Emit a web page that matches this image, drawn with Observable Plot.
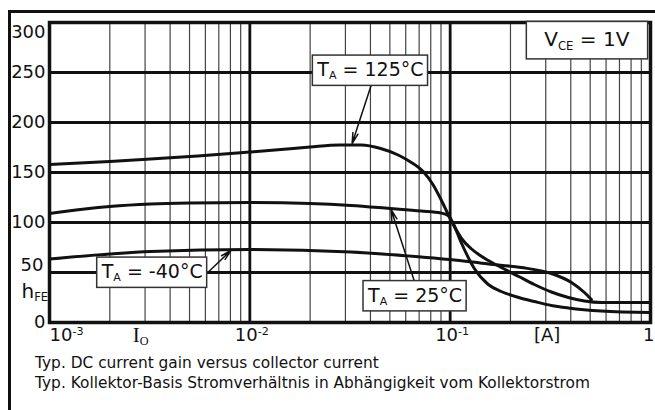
<!DOCTYPE html>
<html><head><meta charset="utf-8">
<script src="https://cdn.jsdelivr.net/npm/d3@7"></script>
<script src="https://cdn.jsdelivr.net/npm/@observablehq/plot@0.6"></script>
<style>
html,body{margin:0;padding:0;background:#fff}
body{width:655px;height:410px;overflow:hidden;position:relative;font-family:"DejaVu Sans",sans-serif}
#chart{position:absolute;left:0;top:0}
.frameL{position:absolute;left:8px;top:10px;width:3px;height:400px;background:#111}
.frameT{position:absolute;left:8px;top:10px;width:647px;height:3px;background:#111}
.cap{position:absolute;left:35px;font-size:15.4px;line-height:20px;color:#111;white-space:nowrap}
</style></head><body>
<div id="chart"></div>
<div class="frameL"></div><div class="frameT"></div>
<div class="cap" style="top:352.5px">Typ. DC current gain versus collector current</div>
<div class="cap" style="top:372.5px">Typ. Kollektor-Basis Stromverhältnis in Abhängigkeit vom Kollektorstrom</div>
<script>
// Collector current [A] and DC current gain hFE
const current_125 = [0.001, 0.002, 0.0032, 0.0055, 0.01, 0.0143, 0.02, 0.028, 0.036, 0.045, 0.055, 0.0617, 0.0733, 0.082, 0.090, 0.100, 0.107, 0.115, 0.127, 0.140, 0.155, 0.180, 0.220, 0.263, 0.320, 0.389, 0.468, 0.569, 1.0];
const hfe_125     = [158,   161,   163.5,  166.5,  170.5, 173,   175.5, 177.5, 177.5, 174,   167.5, 162,    151,    138,   123,   104,   93,    83,    74,    67.5,  62,    55,    46,    38,    30.5,  25,    21.5,  20,    20];

const current_25 = [0.001, 0.0015, 0.002, 0.0032, 0.005, 0.01, 0.02, 0.032, 0.05, 0.0716, 0.090, 0.0977, 0.1035, 0.1135, 0.132, 0.155, 0.180, 0.220, 0.263, 0.320, 0.389, 0.569, 1.0];
const hfe_25     = [109,   113.5,  116,   118.5,  119.5, 120,  119,  117,   114,  111.5,  109.5, 107,    99,     80,     54,    38,    31,    25,    21,    17,    14.5,  11.5,  10];

const current_m40 = [0.001, 0.002, 0.0032, 0.01, 0.032, 0.0716, 0.100, 0.155, 0.226, 0.320, 0.403, 0.468, 0.507];
const hfe_m40     = [63.5,  68.5,  71,     73,   70.5,  65.5,   63,    58.5,  55,    49,    40,    30,    23];

const seriesNames = ["125", "25", "-40"];
const yTicks = [0, 50, 100, 150, 200, 250, 300];
const xTicks = [0.001, 0.01, 0.1, 1];
const xTickLabels = ["10^-3", "10^-2", "10^-1", "1"];
const xMinor = d3.range(-3, 0).flatMap(e => d3.range(2, 10).map(m => m * Math.pow(10, e)));

const rows = [
  ...current_125.map((I, i) => ({T: seriesNames[0], I, h: hfe_125[i]})),
  ...current_25.map((I, i) => ({T: seriesNames[1], I, h: hfe_25[i]})),
  ...current_m40.map((I, i) => ({T: seriesNames[2], I, h: hfe_m40[i]}))
];

const labels = [
  {text: "T_A = 125°C", x: 0.0400, y: 252.5, px: 4, py: 3, size: 19},
  {text: "T_A = -40°C", x: 0.003255, y: 50.5, px: 4, py: 3, size: 19},
  {text: "T_A = 25°C", x: 0.0668, y: 27, px: 4, py: 3, size: 19},
  {text: "V_CE = 1V", x: 0.481, y: 282.5, px: 18, py: 6, size: 20}
];
const arrows = [
  {x1: 0.0403, y1: 237, x2: 0.0324, y2: 179},
  {x1: 0.00617, y1: 50, x2: 0.00804, y2: 72},
  {x1: 0.0661, y1: 42, x2: 0.0507, y2: 113}
];

const ink = "#111";
const chart = Plot.plot({
  width: 655, height: 352,
  marginLeft: 49, marginRight: 5, marginTop: 22, marginBottom: 30,
  x: {type: "log", domain: [0.001, 1], axis: null},
  y: {domain: [0, 300], axis: null},
  style: {background: "transparent", fontFamily: "DejaVu Sans", color: ink, overflow: "visible"},
  marks: [
    Plot.ruleX(xMinor, {stroke: "#444", strokeWidth: 1.2}),
    Plot.ruleX([0.01, 0.1], {stroke: ink, strokeWidth: 2.8}),
    Plot.ruleY(yTicks.filter(d => d > 0 && d < 300), {stroke: ink, strokeWidth: 2.8}),
    Plot.frame({stroke: ink, strokeWidth: 3.5}),
    Plot.line(rows, {x: "I", y: "h", z: "T", stroke: ink, strokeWidth: 3, curve: "monotone-x"}),
    Plot.arrow(arrows, {x1: "x1", y1: "y1", x2: "x2", y2: "y2", stroke: ink, strokeWidth: 1.5, headLength: 11, headAngle: 28}),
    Plot.text(labels.filter(l => l.size === 19), {x: "x", y: "y", text: "text", fontSize: 19, fill: ink}),
    Plot.text(labels.filter(l => l.size === 20), {x: "x", y: "y", text: "text", fontSize: 20, fill: ink}),
    // y tick labels
    Plot.text(yTicks.filter(d => d !== 300 && d !== 50), {y: d => d, text: d => String(d), frameAnchor: "left", textAnchor: "end", dx: -4, fontSize: 18, fill: ink}),
    Plot.text(yTicks.filter(d => d === 300), {y: d => d, text: d => String(d), frameAnchor: "left", textAnchor: "end", dx: -4, dy: 10, fontSize: 18, fill: ink}),
    Plot.text(yTicks.filter(d => d === 50), {y: d => d, text: d => String(d), frameAnchor: "left", textAnchor: "end", dx: -6, dy: -7, fontSize: 18, fill: ink}),
    Plot.text(["h_FE"], {y: 31, text: d => d, frameAnchor: "left", textAnchor: "start", dx: -28, fontSize: 20, fill: ink}),
    // x tick labels
    Plot.text(xTicks.slice(0, 1), {x: d => d, text: d => xTickLabels[xTicks.indexOf(d)], frameAnchor: "bottom", textAnchor: "start", dy: 18, fontSize: 18, fill: ink}),
    Plot.text(xTicks.slice(1, 3), {x: d => d, text: d => xTickLabels[xTicks.indexOf(d)], frameAnchor: "bottom", dy: 18, dx: 2, fontSize: 18, fill: ink}),
    Plot.text(xTicks.slice(3), {x: d => d, text: d => xTickLabels[xTicks.indexOf(d)], frameAnchor: "bottom", textAnchor: "end", dy: 18, dx: 4, fontSize: 18, fill: ink}),
    Plot.text(["I_O"], {x: 0.00285, text: d => d, frameAnchor: "bottom", dy: 19, fontSize: 21, fontFamily: "Liberation Serif", fill: ink}),
    Plot.text(["[A]"], {x: 0.305, text: d => d, frameAnchor: "bottom", dy: 18, fontSize: 18, fill: ink})
  ]
});
document.getElementById("chart").appendChild(chart);

// subscripts, superscripts and boxed labels
const ns = "http://www.w3.org/2000/svg";
function span(t, str, attrs) {
  const s = document.createElementNS(ns, "tspan");
  s.textContent = str;
  for (const k in attrs) s.setAttribute(k, attrs[k]);
  t.appendChild(s);
}
chart.querySelectorAll("text").forEach(t => {
  const s = t.textContent;
  const lab = labels.find(l => l.text === s);
  let m;
  if ((m = s.match(/^(.*?)_([A-Z]+)(.*)$/))) {
    t.textContent = "";
    span(t, m[1], {});
    span(t, m[2], {"font-size": "0.58em", dy: "0.3em"});
    if (m[3]) span(t, m[3], {dy: "-0.17em"});
  } else if ((m = s.match(/^(.*?)\^(.+)$/))) {
    t.textContent = "";
    span(t, m[1], {});
    span(t, m[2], {"font-size": "0.62em", dy: "-0.45em"});
  }
  if (lab) {
    const bb = t.getBBox();
    const r = document.createElementNS(ns, "rect");
    r.setAttribute("x", bb.x - lab.px); r.setAttribute("y", bb.y - lab.py);
    r.setAttribute("width", bb.width + 2 * lab.px); r.setAttribute("height", bb.height + 2 * lab.py);
    r.setAttribute("fill", "#fff"); r.setAttribute("stroke", "#333"); r.setAttribute("stroke-width", "1.5");
    if (t.getAttribute("transform")) r.setAttribute("transform", t.getAttribute("transform"));
    t.parentNode.insertBefore(r, t);
  }
});
</script>
</body></html>
